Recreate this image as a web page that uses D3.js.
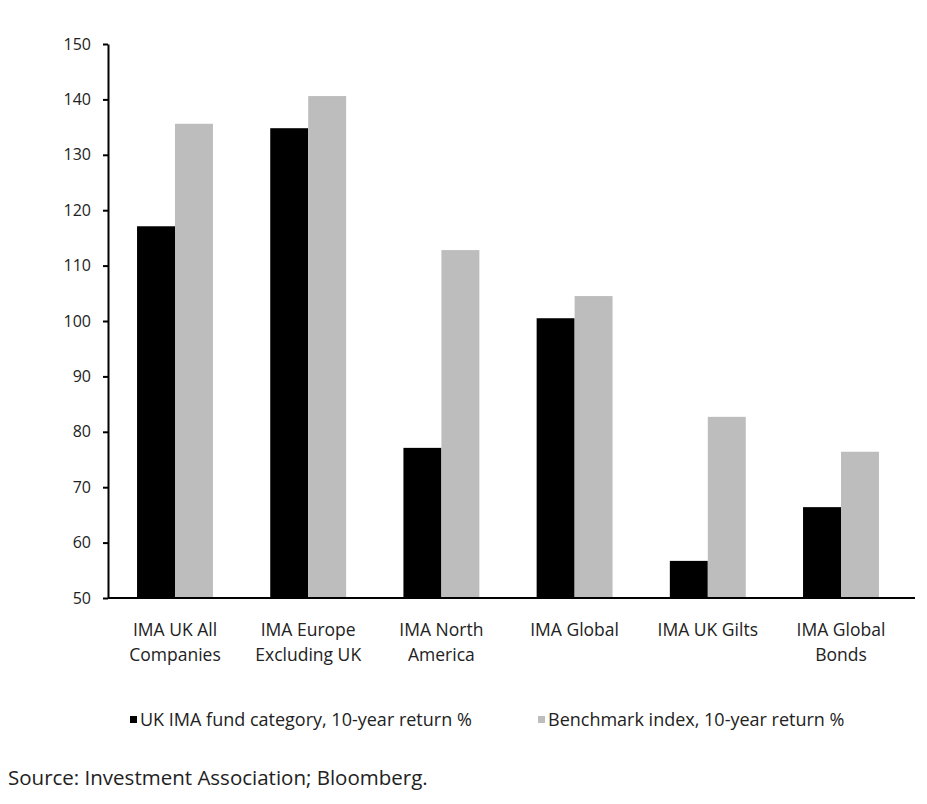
<!DOCTYPE html>
<html>
<head>
<meta charset="utf-8">
<script src="https://cdn.jsdelivr.net/npm/d3@7"></script>
<style>
  body { margin: 0; background: #fff; }
  text { font-family: "Open Sans", "Noto Sans", sans-serif; fill: #222; }
</style>
</head>
<body>
<svg id="chart" width="927" height="804"></svg>
<script>
// data
const categories = [
  ["IMA UK All", "Companies"],
  ["IMA Europe", "Excluding UK"],
  ["IMA North", "America"],
  ["IMA Global"],
  ["IMA UK Gilts"],
  ["IMA Global", "Bonds"]
];
const fundReturn = [117.1, 134.8, 77.1, 100.5, 56.7, 66.4];
const benchReturn = [135.6, 140.6, 112.8, 104.5, 82.7, 76.4];
const seriesNames = ["UK IMA fund category, 10-year return %", "Benchmark index, 10-year return %"];
const yTicks = [50, 60, 70, 80, 90, 100, 110, 120, 130, 140, 150];

const margin = { top: 44, right: 12, bottom: 206, left: 108 };
const fix_width = 927, fix_height = 804;
const width = fix_width - margin.left - margin.right;
const height = fix_height - margin.top - margin.bottom;
const plot_width = 800; // bars span a little less than the axis line

const colors = ["#000000", "#bdbdbd"];

const svg = d3.select("#chart");
const g = svg.append("g").attr("transform", `translate(${margin.left},${margin.top})`);

const x0 = d3.scaleBand().domain(d3.range(categories.length)).range([0, plot_width]).paddingInner(0.43).paddingOuter(0.218);
const x1 = d3.scaleBand().domain([0, 1]).range([0, x0.bandwidth()]);
const y = d3.scaleLinear().domain([50, 150]).range([height, 0]);

// bars
const rows = categories.map((c, i) => [fundReturn[i], benchReturn[i]]);
const grp = g.selectAll("g.grp").data(rows).enter().append("g")
  .attr("transform", (d, i) => `translate(${x0(i)},0)`);
grp.selectAll("rect").data(d => d).enter().append("rect")
  .attr("x", (d, j) => x1(j))
  .attr("width", x1.bandwidth())
  .attr("y", d => y(d))
  .attr("height", d => height - y(d))
  .attr("fill", (d, j) => colors[j]);

// y axis
const yAxis = g.append("g").call(d3.axisLeft(y).tickValues(yTicks).tickSize(5).tickSizeOuter(0));
yAxis.select(".domain").attr("stroke", "#000").attr("stroke-width", 2);
yAxis.selectAll(".tick line").attr("stroke", "#000").attr("stroke-width", 2);
yAxis.selectAll(".tick text").attr("x", -17).style("font-size", "16px").attr("fill", "#222");

// x axis line
g.append("line")
  .attr("x1", 0).attr("x2", width)
  .attr("y1", height).attr("y2", height)
  .attr("stroke", "#000").attr("stroke-width", 2);

// category labels
const lab = g.selectAll("text.cat").data(categories).enter().append("text")
  .attr("class", "cat")
  .attr("x", (d, i) => x0(i) + x0.bandwidth() / 2)
  .attr("y", height + 38)
  .attr("text-anchor", "middle")
  .style("font-size", "17.5px");
lab.selectAll("tspan").data(d => d).enter().append("tspan")
  .attr("x", function () { return this.parentNode.getAttribute("x"); })
  .attr("dy", (d, i) => i === 0 ? 0 : 25)
  .text(d => d);

// legend
const legendX = [130, 538];
const leg = svg.selectAll("g.leg").data(seriesNames).enter().append("g")
  .attr("transform", (d, i) => `translate(${legendX[i]},716)`);
leg.append("rect").attr("width", 7).attr("height", 7).attr("fill", (d, i) => colors[i]);
leg.append("text").attr("x", 10).attr("y", 10).style("font-size", "18px").text(d => d);

// source
svg.append("text").attr("x", 8).attr("y", 785).style("font-size", "20.5px")
  .text("Source: Investment Association; Bloomberg.");
</script>
</body>
</html>
